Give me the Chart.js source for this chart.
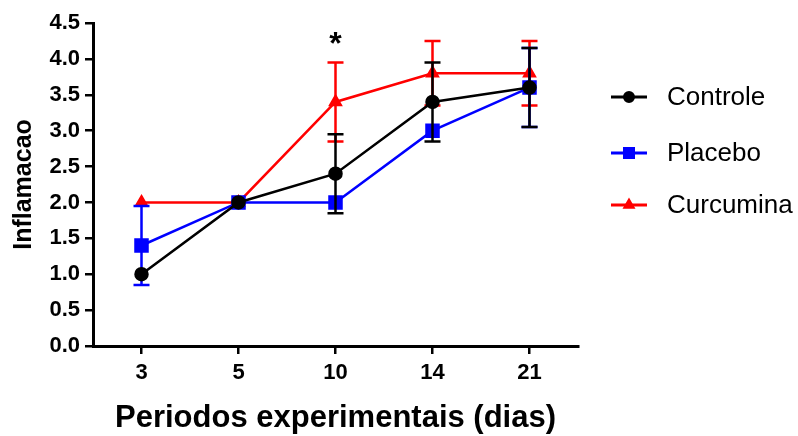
<!DOCTYPE html>
<html>
<head>
<meta charset="utf-8">
<script src="https://cdn.jsdelivr.net/npm/chart.js@4.4.1/dist/chart.umd.min.js"></script>
<style>
  html, body { margin: 0; padding: 0; background: #fff; }
  #wrap { width: 798px; height: 436px; }
</style>
</head>
<body>
<div id="wrap"><canvas id="chart" width="798" height="436"></canvas></div>
<script>
// values
const periods = ['3', '5', '10', '14', '21'];
const controle = [1.0, 2.0, 2.4, 3.4, 3.6];
const placebo = [1.4, 2.0, 2.0, 3.0, 3.6];
const curcumina = [2.0, 2.0, 3.4, 3.8, 3.8];
// error bar half-lengths (0 = not shown)
const controleErr = [0, 0, 0.55, 0.55, 0.55];
const placeboErr = [0.55, 0, 0, 0, 0.55];
const curcuminaErr = [0, 0, 0.55, 0.45, 0.45];
// significance marks per period
const marks = ['', '', '*', '', ''];
const markLevel = 4.07;

const FONT = "'Liberation Sans', Arial, sans-serif";

// draw error bars after each dataset so they stack with their own line
const errorBars = {
    id: 'errorBars',
    afterDatasetDraw(chart, args) {
        const ds = chart.data.datasets[args.index];
        if (!ds.errors) return;
        const ctx = chart.ctx;
        const x = chart.scales.x;
        const y = chart.scales.y;
        ctx.save();
        ctx.strokeStyle = ds.borderColor;
        ctx.lineWidth = 2.5;
        ds.errors.forEach((e, i) => {
            if (!e) return;
            const px = x.getPixelForValue(i);
            const top = y.getPixelForValue(ds.data[i] + e);
            const bot = y.getPixelForValue(ds.data[i] - e);
            ctx.beginPath();
            ctx.moveTo(px, top); ctx.lineTo(px, bot);
            ctx.moveTo(px - 8, top); ctx.lineTo(px + 8, top);
            ctx.moveTo(px - 8, bot); ctx.lineTo(px + 8, bot);
            ctx.stroke();
        });
        ctx.restore();
    }
};

// asterisk + legend on the right
const extras = {
    id: 'extras',
    afterDraw(chart) {
        const ctx = chart.ctx;
        const x = chart.scales.x;
        const y = chart.scales.y;
        ctx.save();
        ctx.fillStyle = '#000';
        ctx.font = 'bold 32px ' + FONT;
        ctx.textAlign = 'center';
        ctx.textBaseline = 'alphabetic';
        marks.forEach((m, i) => {
            if (m) ctx.fillText(m, x.getPixelForValue(i), y.getPixelForValue(markLevel));
        });

        const rows = [97, 153, 205];
        chart.data.datasets.forEach((ds, i) => {
            const ly = rows[i];
            ctx.strokeStyle = ds.borderColor;
            ctx.fillStyle = ds.borderColor;
            ctx.lineWidth = 3;
            ctx.beginPath();
            ctx.moveTo(611, ly); ctx.lineTo(647, ly);
            ctx.stroke();
            Chart.helpers.drawPoint(ctx, { pointStyle: ds.pointStyle, radius: ds.pointRadius * 0.75, rotation: 0, borderWidth: 1 }, 629, ly);
            ctx.fillStyle = '#000';
            ctx.font = '26px ' + FONT;
            ctx.textAlign = 'left';
            ctx.textBaseline = 'middle';
            ctx.fillText(ds.label, 667, ly + 1);
        });
        ctx.restore();
    }
};

function series(label, data, errors, color, style, radius) {
    return {
        label: label,
        data: data,
        errors: errors,
        borderColor: color,
        backgroundColor: color,
        pointBackgroundColor: color,
        pointBorderColor: color,
        pointStyle: style,
        pointRadius: radius,
        pointHoverRadius: radius,
        borderWidth: 2.5,
        tension: 0
    };
}

const ctx = document.getElementById('chart').getContext('2d');
new Chart(ctx, {
    type: 'line',
    data: {
        labels: periods,
        datasets: [
            series('Controle', controle, controleErr, '#000000', 'circle', 6),
            series('Placebo', placebo, placeboErr, '#0000ff', 'rect', 8.5),
            series('Curcumina', curcumina, curcuminaErr, '#ff0000', 'triangle', 6)
        ]
    },
    plugins: [errorBars, extras],
    options: {
        responsive: false,
        animation: false,
        layout: { padding: { top: 23, right: 220, left: 0, bottom: 0 } },
        plugins: {
            legend: { display: false },
            tooltip: { enabled: false }
        },
        scales: {
            x: {
                type: 'category',
                offset: true,
                afterFit: (s) => { s.height = 90; },
                border: { color: '#000', width: 3 },
                grid: { offset: false, drawOnChartArea: false, drawTicks: true, tickLength: 8, color: '#000', lineWidth: 2.5 },
                ticks: { color: '#000', padding: 6, font: { family: FONT, size: 22, weight: 'bold' } },
                title: {
                    display: true,
                    text: 'Periodos experimentais (dias)',
                    color: '#000',
                    padding: { top: 0, bottom: 2 },
                    font: { family: FONT, size: 31, weight: 'bold', lineHeight: 1 }
                }
            },
            y: {
                min: 0,
                max: 4.5,
                afterFit: (s) => { s.width = 93; },
                border: { color: '#000', width: 3 },
                grid: { drawOnChartArea: false, drawTicks: true, tickLength: 8, color: '#000', lineWidth: 2.5 },
                ticks: {
                    stepSize: 0.5,
                    color: '#000',
                    padding: 5,
                    font: { family: FONT, size: 22, weight: 'bold' },
                    callback: (v) => Number(v).toFixed(1)
                },
                title: {
                    display: true,
                    text: 'Inflamacao',
                    color: '#000',
                    padding: { top: 12, bottom: 0 },
                    font: { family: FONT, size: 25, weight: 'bold', lineHeight: 1 }
                }
            }
        }
    }
});
</script>
</body>
</html>
